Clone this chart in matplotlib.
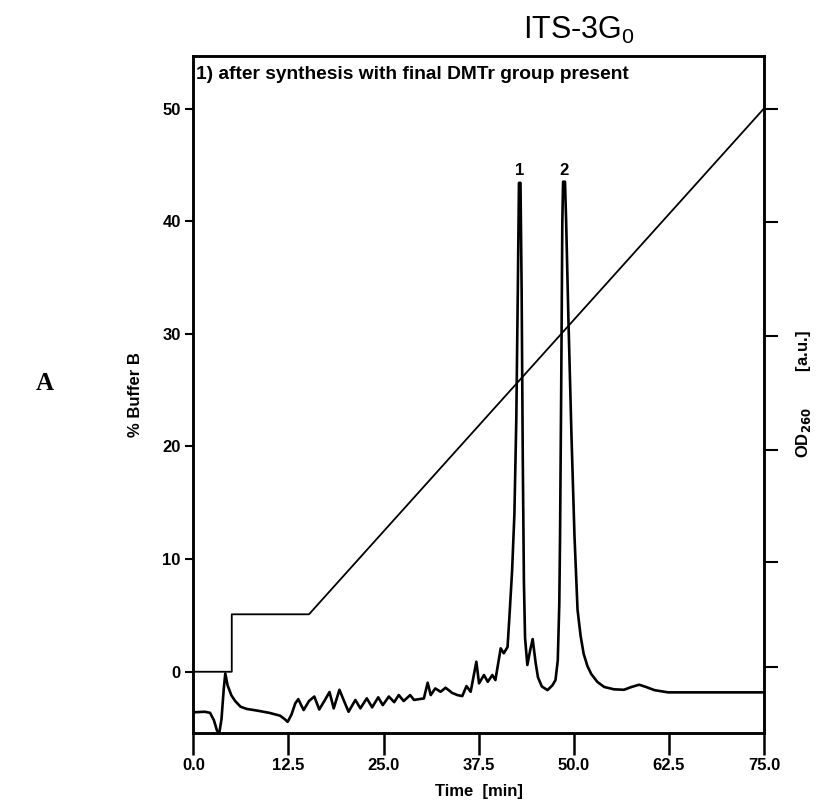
import matplotlib
matplotlib.use("Agg")
import matplotlib.pyplot as plt

plt.rcParams['font.family'] = ['Liberation Sans', 'DejaVu Sans']

# Buffer B gradient (% B) vs time (min)
grad_time = [0.0, 5.05, 5.05, 15.2, 75.0]
grad_b = [0.0, 0.0, 5.1, 5.1, 50.0]

# OD260 trace (plotted on the same vertical scale, arbitrary units)
od_time = [0.0, 1.5, 2.2, 2.7, 3.1, 3.4, 3.7, 4.0, 4.2, 4.5, 5.0, 5.5, 6.2, 7.0, 8.4,
           10.0, 11.4, 12.0, 12.4, 12.9, 13.4, 13.8, 14.2, 14.5, 15.2, 15.9, 16.55,
           17.3, 17.9, 18.45, 19.2, 19.75, 20.4, 21.3, 21.95, 22.8, 23.5, 24.3, 24.9,
           25.7, 26.4, 27.0, 27.65, 28.5, 29.0, 30.3, 30.8, 31.2, 31.8, 32.5, 33.15,
           34.0, 34.7, 35.35, 35.9, 36.45, 37.2, 37.55, 38.2, 38.7, 39.3, 39.7, 40.4,
           40.8, 41.3, 41.6, 41.9, 42.2, 42.45, 42.65, 42.8, 43.0, 43.15, 43.3, 43.45,
           43.6, 43.9, 44.3, 44.6, 45.0, 45.3, 45.8, 46.55, 47.2, 47.6, 47.9, 48.1,
           48.2, 48.35, 48.5, 48.6, 48.85, 49.0, 49.3, 49.7, 50.1, 50.5, 50.9, 51.3,
           51.8, 52.3, 53.1, 54.0, 55.3, 56.6, 57.6, 58.6, 59.5, 60.6, 62.4, 75.0]
od_val = [-3.6, -3.55, -3.65, -4.3, -5.2, -5.5, -4.2, -1.5, -0.15, -1.2, -2.1, -2.6,
          -3.1, -3.3, -3.45, -3.65, -3.9, -4.2, -4.45, -3.8, -2.8, -2.43, -3.0, -3.4,
          -2.6, -2.2, -3.35, -2.5, -1.8, -3.25, -1.6, -2.5, -3.55, -2.5, -3.25, -2.36,
          -3.16, -2.27, -2.96, -2.2, -2.7, -2.07, -2.6, -2.07, -2.5, -2.37, -0.97,
          -2.07, -1.48, -1.78, -1.42, -1.87, -2.07, -2.16, -1.27, -1.78, 0.89, -1.03,
          -0.29, -0.89, -0.29, -0.74, 2.08, 1.64, 2.2, 5.5, 9.0, 14.0, 22.4, 34.0,
          43.4, 43.4, 34.0, 19.0, 8.0, 3.0, 0.6, 2.0, 2.9, 0.75, -0.5, -1.3, -1.63,
          -1.2, -0.74, 1.0, 6.0, 12.0, 25.0, 40.0, 43.5, 43.5, 40.0, 31.3, 21.0, 12.0,
          5.5, 3.2, 1.6, 0.5, -0.2, -0.9, -1.35, -1.56, -1.6, -1.35, -1.15, -1.35,
          -1.63, -1.83, -1.83]

peak_labels = ["1", "2"]
peak_times = [42.9, 48.72]
peak_heights = [43.5, 43.5]

x_ticks = [0.0, 12.5, 25.0, 37.5, 50.0, 62.5, 75.0]
x_ticklabels = ["0.0", "12.5", "25.0", "37.5", "50.0", "62.5", "75.0"]
y_ticks = [0, 10, 20, 30, 40, 50]
right_ticks = [0.45, 9.7, 19.7, 29.8, 39.9, 50.0]

fig = plt.figure(figsize=(8.21, 8.05), dpi=100)
ax = fig.add_axes([0.2355, 0.0894, 0.695, 0.841])

ax.plot(grad_time, grad_b, color='black', lw=1.3)
ax.plot(od_time, od_val, color='black', lw=1.9, solid_joinstyle='round')

for lab, t, h in zip(peak_labels, peak_times, peak_heights):
    ax.text(t, h + 0.3, lab, ha='center', va='bottom', fontsize=12, fontweight='bold')

ax.set_xlim(0, 75)
ax.set_ylim(-5.44, 54.66)
ax.set_xticks(x_ticks)
ax.set_xticklabels(x_ticklabels)
ax.set_yticks(y_ticks)

for s in ax.spines.values():
    s.set_linewidth(1.8)

ax.tick_params(axis='x', direction='out', length=16, width=1.8, pad=2, labelsize=12)
ax.tick_params(axis='y', direction='out', length=6, width=1.5, pad=3, labelsize=12)
for lbl in ax.get_xticklabels() + ax.get_yticklabels():
    lbl.set_fontweight('bold')

ax2 = ax.twinx()
ax2.set_ylim(ax.get_ylim())
ax2.set_yticks(right_ticks)
ax2.set_yticklabels([])
ax2.tick_params(axis='y', direction='out', length=10, width=1.5)
for s in ax2.spines.values():
    s.set_linewidth(1.8)

ax.set_xlabel("Time  [min]", fontsize=12, fontweight='bold', labelpad=8)
ax.set_ylabel("% Buffer B", fontsize=12, fontweight='bold', labelpad=14)
ax2.set_ylabel("OD$_{\\mathbf{260}}$        [a.u.]", fontsize=12, fontweight='bold', labelpad=8)

ax.text(0.005, 0.985, "1) after synthesis with final DMTr group present",
        transform=ax.transAxes, ha='left', va='top', fontsize=13.8, fontweight='bold')

fig.text(0.705, 0.962, "ITS-3G$_\\mathregular{0}$", ha='center', va='center', fontsize=22)
fig.text(0.055, 0.524, "A", ha='center', va='center', fontsize=18, fontweight='bold',
         family=['Liberation Serif', 'DejaVu Serif'])

fig.savefig("out.png", dpi=100)
